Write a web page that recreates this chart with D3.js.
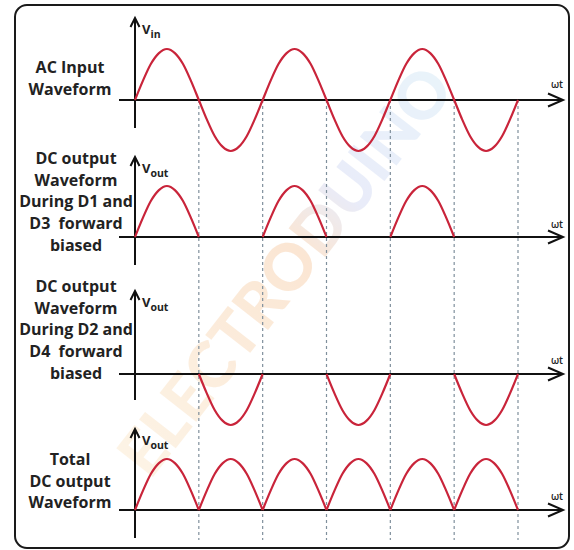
<!DOCTYPE html>
<html>
<head>
<meta charset="utf-8">
<script src="https://cdn.jsdelivr.net/npm/d3@7"></script>
<style>
  body { margin: 0; background: #fff; }
  .label { font-family: "Open Sans", sans-serif; font-weight: 700; font-size: 16px; fill: #222; }
  .sym { font-family: "Open Sans", sans-serif; font-weight: 700; fill: #222; }
</style>
</head>
<body>
<svg></svg>
<script>
// half cycles along wt (0..6), one entry per half cycle
var halfCycles = [0, 1, 2, 3, 4, 5];
// polarity of each half cycle in every panel (0 = flat)
var acInput   = [1, -1, 1, -1, 1, -1];
var dcD1D3    = [1, 0, 1, 0, 1, 0];
var dcD2D4    = [0, -1, 0, -1, 0, -1];
var dcTotal   = [1, 1, 1, 1, 1, 1];
// shape of one half cycle, read at 1/8 steps
var arcProfile = [0, 0.38, 0.71, 0.92, 1, 0.92, 0.71, 0.38, 0];
// zero crossings where the dotted guides are drawn
var crossings = [1, 2, 3, 4, 5, 6];

var panels = [
  {axisY:100, top:18,  bottom:128, wave:acInput, sub:"in",
   lines:["AC Input","Waveform"], textX:70, firstBase:73, wtY:88},
  {axisY:237, top:157, bottom:265, wave:dcD1D3, sub:"out",
   lines:["DC output","Waveform","During D1 and","D3  forward","biased"], textX:76, firstBase:164, wtY:228},
  {axisY:374, top:291, bottom:400, wave:dcD2D4, sub:"out",
   lines:["DC output","Waveform","During D2 and","D4  forward","biased"], textX:76, firstBase:292, wtY:364},
  {axisY:510, top:429, bottom:538, wave:dcTotal, sub:"out",
   lines:["Total","DC output","Waveform"], textX:70, firstBase:465, wtY:500}
];

var screen = {width:574, height:550};
var svg = d3.select("svg").attr("width", screen.width).attr("height", screen.height);

var xScale = d3.scaleLinear().domain([0, 6]).range([135, 518]);
var amp = 51;
var red = "#c9243a";

// watermark
var defs = svg.append("defs");
var grad = defs.append("linearGradient").attr("id","wm").attr("x1","0%").attr("x2","100%");
grad.append("stop").attr("offset","0%").attr("stop-color","#fbe7c8");
grad.append("stop").attr("offset","55%").attr("stop-color","#f7c9a0");
grad.append("stop").attr("offset","70%").attr("stop-color","#cfd6f3");
grad.append("stop").attr("offset","100%").attr("stop-color","#cfe6f5");
svg.append("text")
  .attr("transform","translate(290,275) rotate(-52)")
  .attr("text-anchor","middle")
  .attr("dominant-baseline","middle")
  .style("font-family","Lato, sans-serif")
  .style("font-weight","900")
  .style("font-size","64px")
  .attr("fill","url(#wm)")
  .attr("opacity",0.45)
  .text("ELECTRODUINO");

// border
svg.append("rect")
  .attr("x",15).attr("y",5).attr("width",554).attr("height",543)
  .attr("rx",12).attr("ry",12)
  .attr("fill","none").attr("stroke","#1a1a1a").attr("stroke-width",2);

// dotted guides at zero crossings
svg.append("g").selectAll("line")
  .data(crossings).enter().append("line")
  .attr("x1", function(d){ return xScale(d); })
  .attr("x2", function(d){ return xScale(d); })
  .attr("y1", 100).attr("y2", 540)
  .attr("stroke","#7f8f9c").attr("stroke-width",1.2)
  .attr("stroke-dasharray","3,3");

var line = d3.line()
  .x(function(p){ return p.x; })
  .y(function(p){ return p.y; })
  .curve(d3.curveMonotoneX);

panels.forEach(function(p){
  var g = svg.append("g");
  var yScale = d3.scaleLinear().domain([-1, 1]).range([p.axisY + amp, p.axisY - amp]);

  // waveform: one path per non flat half cycle (AC drawn as one path)
  var segs = [];
  if (p.wave === acInput) {
    var pts = [];
    halfCycles.forEach(function(h){
      arcProfile.forEach(function(v, i){
        if (h > 0 && i === 0) return;
        pts.push({x:xScale(h + i/(arcProfile.length-1)), y:yScale(v * p.wave[h])});
      });
    });
    segs.push(pts);
  } else {
    halfCycles.forEach(function(h){
      if (p.wave[h] === 0) return;
      segs.push(arcProfile.map(function(v, i){
        return {x:xScale(h + i/(arcProfile.length-1)), y:yScale(v * p.wave[h])};
      }));
    });
  }

  // axes
  g.append("line").attr("x1",119).attr("x2",562).attr("y1",p.axisY).attr("y2",p.axisY)
    .attr("stroke","#111").attr("stroke-width",2);
  g.append("path").attr("d","M548,"+(p.axisY-6.5)+"L563,"+p.axisY+"L548,"+(p.axisY+6.5))
    .attr("fill","none").attr("stroke","#111").attr("stroke-width",2);
  g.append("line").attr("x1",xScale(0)).attr("x2",xScale(0)).attr("y1",p.top+1).attr("y2",p.bottom)
    .attr("stroke","#111").attr("stroke-width",2);
  g.append("path").attr("d","M130.5,"+(p.top+9)+"L135,"+p.top+"L139.5,"+(p.top+9))
    .attr("fill","none").attr("stroke","#111").attr("stroke-width",2);

  g.selectAll("path.wave").data(segs).enter().append("path")
    .attr("class","wave")
    .attr("d", line)
    .attr("fill","none").attr("stroke",red).attr("stroke-width",2.2);

  // V label
  var v = g.append("text").attr("class","sym").attr("x",142).attr("y",p.top+16).style("font-size","13px");
  v.append("tspan").text("V");
  v.append("tspan").attr("dy",4).style("font-size","10.5px").text(p.sub);

  // wt label
  g.append("text").attr("class","sym").attr("x",557).attr("y",p.wtY)
    .attr("text-anchor","middle").style("font-size","10px").style("font-weight","600").text("ωt");

  // side label
  g.append("g").selectAll("text").data(p.lines).enter().append("text")
    .attr("class","label")
    .attr("x",p.textX)
    .attr("y",function(d,i){ return p.firstBase + i*21.7; })
    .attr("text-anchor","middle")
    .attr("xml:space","preserve")
    .style("white-space","pre")
    .text(function(d){ return d; });
});
</script>
</body>
</html>
